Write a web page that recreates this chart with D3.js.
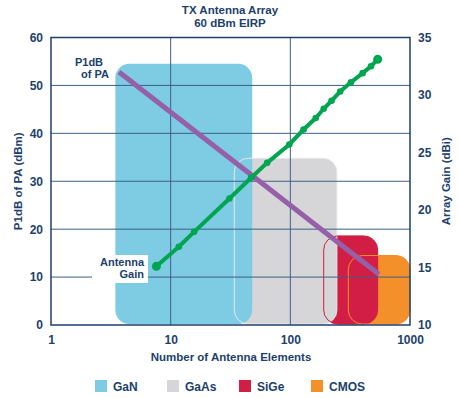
<!DOCTYPE html>
<html>
<head>
<meta charset="utf-8">
<script src="https://cdn.jsdelivr.net/npm/d3@7"></script>
<style>
  body { margin: 0; background: #fff; }
  text { font-family: "Liberation Sans", Arial, sans-serif; font-weight: bold; fill: #1c3f6e; }
</style>
</head>
<body>
<script>
// technology bands (number of elements range, max P1dB)
const techs = ["GaN", "GaAs", "SiGe", "CMOS"];
const techColors = ["#7ecbe4", "#d6d6d8", "#d21e45", "#f49029"];
const nMin = [3.45, 34, 190, 305];
const nMax = [48, 245, 537, 1000];
const p1dbTop = [54.5, 34.8, 18.6, 14.5];

// P1dB of PA line (two ends)
const paN = [3.7, 550];
const paP1dB = [52.8, 10.6];

// antenna gain points
const gainN = [7.6, 11.7, 15.7, 31, 47, 64, 98, 129, 163, 190, 221, 261, 321, 402, 472, 537];
const gainDbi = [15.1, 16.8, 18.1, 21.0, 22.8, 24.1, 25.7, 27.0, 28.0, 28.8, 29.5, 30.3, 31.1, 31.9, 32.5, 33.1];

const xTicks = [1, 10, 100, 1000];
const leftTicks = [0, 10, 20, 30, 40, 50, 60];
const rightTicks = [10, 15, 20, 25, 30, 35];

const width = 459, height = 398;
const margin = { top: 37.5, right: 49, bottom: 73, left: 51 };
const navy = "#1c3f6e";

const svg = d3.select("body").append("svg")
    .attr("width", width)
    .attr("height", height);

const x = d3.scaleLog().domain([1, 1000]).range([margin.left, width - margin.right]);
const yL = d3.scaleLinear().domain([0, 60]).range([height - margin.bottom, margin.top]);
const yR = d3.scaleLinear().domain([10, 35]).range([height - margin.bottom, margin.top]);

// 帯（後ろのものから塗る）
const bands = techs.map((t, i) => ({ t, c: techColors[i], a: nMin[i], b: nMax[i], top: p1dbTop[i] }));
const bandG = svg.append("g");
bandG.selectAll("rect.fill")
  .data(bands.slice().reverse())
  .join("rect")
    .attr("class", "fill")
    .attr("x", d => x(d.a))
    .attr("width", d => x(d.b) - x(d.a))
    .attr("y", d => yL(d.top))
    .attr("height", d => yL(0) - 1 - yL(d.top))
    .attr("rx", 14)
    .attr("fill", d => d.c);
// outlines on top
bandG.selectAll("rect.edge")
  .data(bands.slice(1))
  .join("rect")
    .attr("class", "edge")
    .attr("x", d => x(d.a))
    .attr("width", d => x(d.b) - x(d.a))
    .attr("y", d => yL(d.top))
    .attr("height", d => yL(0) - 1 - yL(d.top))
    .attr("rx", 14)
    .attr("fill", "none")
    .attr("stroke", (d, i) => i === 0 ? "#e8e8ea" : d.c)
    .attr("stroke-width", 1);

// グリッド線
const grid = svg.append("g").attr("stroke", "#3c5f86").attr("stroke-width", 1);
grid.selectAll("line.h")
  .data(leftTicks.slice(1, -1))
  .join("line")
    .attr("x1", x(1)).attr("x2", x(1000))
    .attr("y1", d => yL(d)).attr("y2", d => yL(d));
grid.selectAll("line.v")
  .data(xTicks.slice(1, -1))
  .join("line")
    .attr("x1", d => x(d)).attr("x2", d => x(d))
    .attr("y1", yL(0)).attr("y2", yL(60));

// frame
svg.append("rect")
    .attr("x", x(1)).attr("y", yL(60))
    .attr("width", x(1000) - x(1)).attr("height", yL(0) - yL(60))
    .attr("fill", "none").attr("stroke", navy).attr("stroke-width", 1.5);

// P1dB line
svg.append("line")
    .attr("x1", x(paN[0])).attr("y1", yL(paP1dB[0]))
    .attr("x2", x(paN[1])).attr("y2", yL(paP1dB[1]))
    .attr("stroke", "#9560a8").attr("stroke-width", 5);

// antenna gain line
const gainData = gainN.map((n, i) => ({ n, g: gainDbi[i] }));
svg.append("path")
    .datum(gainData)
    .attr("fill", "none")
    .attr("stroke", "#00a54f")
    .attr("stroke-width", 4)
    .attr("d", d3.line().x(d => x(d.n)).y(d => yR(d.g)));
svg.append("g").attr("fill", "#00a54f")
  .selectAll("circle")
  .data(gainData)
  .join("circle")
    .attr("cx", d => x(d.n))
    .attr("cy", d => yR(d.g))
    .attr("r", (d, i) => (i === 0 || i === gainData.length - 1) ? 4.5 : 3.3);

// axes
const axisFont = g => g.call(g => g.select(".domain").remove())
    .call(g => g.selectAll("text").attr("font-size", 12).attr("font-weight", "bold")
        .attr("font-family", "Liberation Sans, Arial, sans-serif").attr("fill", navy));

svg.append("g")
    .attr("transform", `translate(${x(1) - 8},0)`)
    .call(d3.axisLeft(yL).tickValues(leftTicks).tickSize(0).tickPadding(0))
    .call(axisFont);
svg.append("g")
    .attr("transform", `translate(${x(1000) + 8},0)`)
    .call(d3.axisRight(yR).tickValues(rightTicks).tickSize(0).tickPadding(0))
    .call(axisFont);
svg.append("g")
    .attr("transform", `translate(0,${yL(0) + 8})`)
    .call(d3.axisBottom(x).tickValues(xTicks).tickFormat(d3.format("d")).tickSize(0).tickPadding(0))
    .call(axisFont)
    .call(g => g.selectAll("text").attr("dy", "0.9em"));
svg.selectAll(".tick line").remove();

// titles
svg.append("text").attr("x", 230).attr("y", 14).attr("text-anchor", "middle")
    .attr("font-size", 11.5).text("TX Antenna Array");
svg.append("text").attr("x", 230).attr("y", 27).attr("text-anchor", "middle")
    .attr("font-size", 11.5).text("60 dBm EIRP");
svg.append("text").attr("x", 231).attr("y", 361).attr("text-anchor", "middle")
    .attr("font-size", 11.5).text("Number of Antenna Elements");
svg.append("text")
    .attr("transform", `translate(22,${(yL(0) + yL(60)) / 2}) rotate(-90)`)
    .attr("text-anchor", "middle").attr("font-size", 11.5).text("P1dB of PA (dBm)");
svg.append("text")
    .attr("transform", `translate(450,${(yL(0) + yL(60)) / 2}) rotate(-90)`)
    .attr("text-anchor", "middle").attr("font-size", 11.5).text("Array Gain (dBi)");

// line labels
svg.append("text").attr("x", 89).attr("y", 66).attr("text-anchor", "middle")
    .attr("font-size", 11).text("P1dB");
svg.append("text").attr("x", 95).attr("y", 78).attr("text-anchor", "middle")
    .attr("font-size", 11).text("of PA");
svg.append("rect").attr("x", 92).attr("y", 255).attr("width", 56).attr("height", 28).attr("fill", "#fff");
svg.append("text").attr("x", 144).attr("y", 266).attr("text-anchor", "end")
    .attr("font-size", 11).text("Antenna");
svg.append("text").attr("x", 144).attr("y", 278).attr("text-anchor", "end")
    .attr("font-size", 11).text("Gain");

// legend
const legendX = [95, 167, 239, 311];
const legend = svg.append("g").selectAll("g")
  .data(bands)
  .join("g")
    .attr("transform", (d, i) => `translate(${legendX[i]},380)`);
legend.append("rect").attr("width", 12).attr("height", 12).attr("fill", d => d.c);
legend.append("text").attr("x", 18).attr("y", 11).attr("font-size", 12).text(d => d.t);
</script>
</body>
</html>
